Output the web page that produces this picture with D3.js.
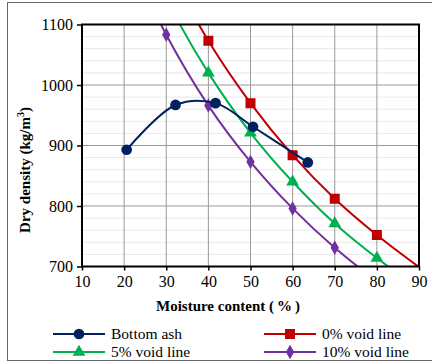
<!DOCTYPE html>
<html>
<head>
<meta charset="utf-8">
<script src="https://cdn.jsdelivr.net/npm/d3@7"></script>
<style>
  body { margin: 0; background: #fff; }
</style>
</head>
<body>
<div id="chart"></div>
<script>
// values
var ashMoisture = [20.6, 32.2, 41.7, 50.6, 63.6];
var ashDensity = [893, 967, 970, 931, 872];

var voidMoisture = [20, 30, 40, 50, 60, 70, 80, 90];
var void0 = [1368, 1203, 1073, 970, 884, 812, 752, 699];
var void5 = [1299, 1143, 1020, 921, 840, 771, 714, 664];
var void10 = [1231, 1083, 966, 873, 796, 731, 676, 629];

var xTicks = [10, 20, 30, 40, 50, 60, 70, 80, 90];
var yTicks = [700, 800, 900, 1000, 1100];

var FONT = "'Liberation Serif', 'DejaVu Serif', serif";

var width = 432, height = 362;
var margin = {top: 24.5, right: 13, bottom: 95.5, left: 82};
var w = width - margin.left - margin.right,
    h = height - margin.top - margin.bottom;

var svg = d3.select("#chart").append("svg")
  .attr("width", width).attr("height", height);

// outer frame
svg.append("rect")
  .attr("x", 7.5).attr("y", 2.5).attr("width", 440).attr("height", 358)
  .attr("fill", "none").attr("stroke", "#666").attr("stroke-width", 1);

var g = svg.append("g").attr("transform", "translate(" + margin.left + "," + margin.top + ")");

var x = d3.scaleLinear().domain([10, 90]).range([0, w]);
var y = d3.scaleLinear().domain([700, 1100]).range([h, 0]);

// minor grid
g.append("g").selectAll("line")
  .data(d3.range(700, 1101, 20).filter(function(v) { return v % 100 !== 0; }))
  .enter().append("line")
  .attr("x1", 0).attr("x2", w)
  .attr("y1", function(d) { return y(d); }).attr("y2", function(d) { return y(d); })
  .attr("stroke", "#e8e8e8").attr("stroke-width", 1);

// major grid
g.append("g").selectAll("line")
  .data(yTicks).enter().append("line")
  .attr("x1", 0).attr("x2", w)
  .attr("y1", function(d) { return y(d); }).attr("y2", function(d) { return y(d); })
  .attr("stroke", "#999").attr("stroke-width", 1);
g.append("g").selectAll("line")
  .data(xTicks).enter().append("line")
  .attr("y1", 0).attr("y2", h)
  .attr("x1", function(d) { return x(d); }).attr("x2", function(d) { return x(d); })
  .attr("stroke", "#999").attr("stroke-width", 1);

g.append("defs").append("clipPath").attr("id", "clip")
  .append("rect").attr("width", w).attr("height", h);

var line = d3.line()
  .curve(d3.curveCatmullRom.alpha(0.5))
  .x(function(d) { return x(d[0]); })
  .y(function(d) { return y(d[1]); });

var series = [
  {name: "Bottom ash", color: "#002060", xs: ashMoisture, ys: ashDensity, marker: "circle"},
  {name: "0% void line", color: "#C00000", xs: voidMoisture, ys: void0, marker: "square"},
  {name: "5% void line", color: "#00B050", xs: voidMoisture, ys: void5, marker: "triangle"},
  {name: "10% void line", color: "#7030A0", xs: voidMoisture, ys: void10, marker: "diamond"}
];

function symbolFor(m) {
  if (m === "circle") return d3.symbol().type(d3.symbolCircle).size(90);
  if (m === "square") return d3.symbol().type(d3.symbolSquare).size(100);
  if (m === "triangle") return d3.symbol().type(d3.symbolTriangle).size(70);
  return d3.symbol().type(d3.symbolDiamond).size(60);
}

var plot = g.append("g").attr("clip-path", "url(#clip)");
// draw void lines first, bottom ash on top
[1, 2, 3, 0].forEach(function(i) {
  var s = series[i];
  var pts = s.xs.map(function(v, k) { return [v, s.ys[k]]; });
  plot.append("path").datum(pts)
    .attr("d", line)
    .attr("fill", "none").attr("stroke", s.color).attr("stroke-width", 2);
  plot.selectAll(null)
    .data(pts.filter(function(p) { return p[1] >= 700 && p[1] <= 1100; }))
    .enter().append("path")
    .attr("d", symbolFor(s.marker))
    .attr("transform", function(p) { return "translate(" + x(p[0]) + "," + y(p[1]) + ")"; })
    .attr("fill", s.color);
});

// axes
var xAxis = g.append("g").attr("transform", "translate(0," + h + ")")
  .call(d3.axisBottom(x).tickValues(xTicks).tickSize(4).tickPadding(5).tickFormat(d3.format("d")));
var yAxis = g.append("g")
  .call(d3.axisLeft(y).tickValues(yTicks).tickSize(5).tickPadding(4).tickFormat(d3.format("d")));
[xAxis, yAxis].forEach(function(a) {
  a.attr("font-family", null).attr("font-size", null);
  a.select(".domain").remove();
  a.selectAll("line").attr("stroke", "#000").attr("stroke-width", 1.5);
  a.selectAll("text").attr("font-size", 16).attr("fill", "#000");
});

// plot frame
g.append("rect").attr("width", w).attr("height", h)
  .attr("fill", "none").attr("stroke", "#000").attr("stroke-width", 2);

// titles
svg.append("text")
  .attr("x", 228).attr("y", 311)
  .attr("text-anchor", "middle").attr("font-size", 15).attr("font-weight", "bold")
  .text("Moisture content (\u2009%\u2009)");

var yl = svg.append("text")
  .attr("transform", "translate(30,170) rotate(-90)")
  .attr("text-anchor", "middle").attr("font-size", 15).attr("font-weight", "bold");
yl.append("tspan").text("Dry density (kg/m");
yl.append("tspan").attr("font-size", 10).attr("dy", -6).text("3");
yl.append("tspan").attr("dy", 6).text(")");

// legend
var legendPos = [[53, 334], [264, 334], [53, 352], [264, 352]];
series.forEach(function(s, i) {
  var p = legendPos[i];
  var lg = svg.append("g").attr("transform", "translate(" + p[0] + "," + p[1] + ")");
  lg.append("line").attr("x1", 0).attr("x2", 52).attr("y1", 0).attr("y2", 0)
    .attr("stroke", s.color).attr("stroke-width", 2);
  lg.append("path").attr("d", symbolFor(s.marker))
    .attr("transform", "translate(26,0)").attr("fill", s.color);
  lg.append("text").attr("x", 58).attr("y", 5)
    .attr("font-size", 15.5).text(s.name);
});

svg.selectAll("text").style("font-family", FONT);
</script>
</body>
</html>
